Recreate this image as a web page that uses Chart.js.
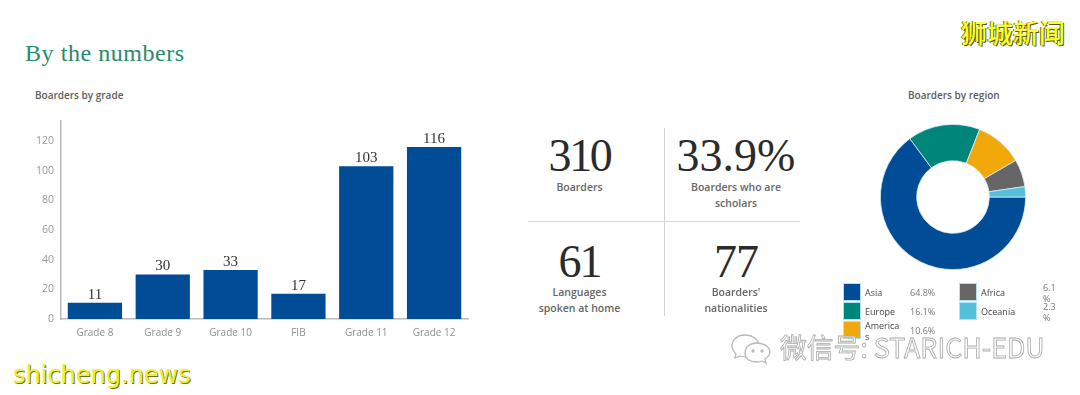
<!DOCTYPE html>
<html><head><meta charset="utf-8">
<script src="https://cdn.jsdelivr.net/npm/chart.js@4"></script>
<style>
html,body{margin:0;padding:0;background:#fff;overflow:hidden}
body{width:1080px;height:395px;position:relative;font-family:"Open Sans",sans-serif}
.a{position:absolute;white-space:nowrap}
canvas{position:absolute}
.t{font-size:10px;font-weight:600;color:#5c5c5c;line-height:14px}
.n{font-family:"Liberation Serif",serif;color:#2b2b2b;text-align:center;width:160px;line-height:50px;font-size:46px}
.l{font-size:10.5px;font-weight:600;color:#666;text-align:center;width:160px;line-height:16px;white-space:normal}
.leg{font-size:9px;color:#444;line-height:11px}
.swatch{position:absolute;width:18px;height:18px;box-sizing:border-box;border:1px solid #b5dff5}
.cell{position:absolute;display:flex;align-items:center;word-break:break-all;white-space:normal}
</style></head><body>
<div class="a" style="left:25px;top:38px;font:24px/30px 'Liberation Serif',serif;color:#2a8a6c;letter-spacing:.55px">By the numbers</div>
<div class="a t" style="left:35px;top:88px">Boarders by grade</div>
<div class="a t" style="left:908px;top:88px">Boarders by region</div>
<canvas id="bars" width="480" height="250" style="left:0;top:100px;width:480px;height:250px"></canvas>
<canvas id="donut" width="180" height="180" style="left:863px;top:107px;width:180px;height:180px"></canvas>

<div class="a" style="left:664px;top:128px;width:1px;height:188px;background:#cfd3d8"></div>
<div class="a" style="left:528px;top:221px;width:272px;height:1px;background:#d6d9dd"></div>
<div id="stats"></div>
<div id="legend" class="leg"></div>

<div class="a" style="left:961px;top:14px;font:500 26px/36px 'Noto Sans CJK SC',sans-serif;color:#ffff2e;text-shadow:1px 1px 0 #55550a,-1px 0 0 #77771a">狮城新闻</div>
<svg class="a" style="left:730px;top:333px" width="44" height="32" viewBox="0 0 44 32" fill="#fff" stroke="#b9b9b9" stroke-width="1.3">
<path d="M15 2C7 2 2 7 2 13c0 3 2 6 4 8l-1 4 5-2c2 .6 4 1 6 1 8 0 13-5 13-11S23 2 15 2z"/>
<path d="M27 10c-7 0-12 4-12 10s5 9 12 9c2 0 3 0 5-1l4 2-1-4c3-2 5-4 5-7 0-5-6-9-13-9z"/>
<circle cx="23" cy="18" r="1" fill="#b9b9b9"/><circle cx="32" cy="18" r="1" fill="#b9b9b9"/>
</svg>
<div class="a" style="left:780px;top:330px;font:26.8px/34px 'Noto Sans CJK SC',sans-serif;color:rgba(255,255,255,.7);-webkit-text-stroke:.8px #a9a9a9">微信号: STARICH-EDU</div>
<div class="a" style="left:13px;top:357px;font:24px/36px 'DejaVu Sans',sans-serif;color:#f0f02a;text-shadow:1px 1px 0 #6d6d1a">shicheng.news</div>

<script>
const gradeLabels = ["Grade 8","Grade 9","Grade 10","FIB","Grade 11","Grade 12"];
const gradeValues = [11,30,33,17,103,116];
const regionLabels = ["Asia","Europe","Americas","Africa","Oceania"];
const regionValues = [64.8,16.1,10.6,6.1,2.3];
const regionColors = ["#004c97","#00857a","#f0a80a","#666666","#56bfdc"];
const statValues = ["310","33.9%","61","77"];
const statLabels = ["Boarders","Boarders who are<br>scholars","Languages<br>spoken at home","Boarders'<br>nationalities"];

const valueLabels = {
  id:"valueLabels",
  afterDatasetsDraw(c){
    const {ctx}=c, m=c.getDatasetMeta(0);
    ctx.save();
    ctx.font="15px 'Liberation Serif',serif";
    ctx.fillStyle="#333";
    ctx.textAlign="center";
    ctx.textBaseline="bottom";
    m.data.forEach((b,i)=>ctx.fillText(gradeValues[i],b.x,b.y-0.5));
    ctx.restore();
  }
};
new Chart(document.getElementById("bars"),{
  type:"bar",
  data:{labels:gradeLabels,datasets:[{data:gradeValues,backgroundColor:"#004c97",barPercentage:.8,categoryPercentage:1}]},
  plugins:[valueLabels],
  options:{
    responsive:false,animation:false,
    layout:{padding:{top:21,right:12,left:0,bottom:0}},
    plugins:{legend:{display:false},tooltip:{enabled:false}},
    scales:{
      x:{grid:{display:false,drawTicks:false},border:{color:"#b9b9b9",width:1.5},
         ticks:{color:"#8f8f8f",font:{family:"Open Sans",size:10},padding:8,maxRotation:0},
         afterFit(s){s.height=31}},
      y:{min:0,max:133.5,grid:{display:false,drawTicks:false},border:{color:"#b9b9b9",width:1.5},
         ticks:{stepSize:20,includeBounds:false,color:"#999",font:{family:"Open Sans",size:10.5},padding:7},
         afterFit(s){s.width=61}}
    }
  }
});
new Chart(document.getElementById("donut"),{
  type:"doughnut",
  data:{labels:regionLabels,datasets:[{data:regionValues,backgroundColor:regionColors,borderColor:"#d8eef8",borderWidth:.8}]},
  options:{
    responsive:false,animation:false,rotation:90,cutout:"50%",
    layout:{padding:17},
    plugins:{legend:{display:false},tooltip:{enabled:false}}
  }
});

const stats=document.getElementById("stats");
const sx=[499.5,656],ny=[131,237],ly=[179,284];
const spacing=["-2.3px","0","-2px","-1px"];
statValues.forEach((v,i)=>{
  const col=i%2,row=i>>1;
  stats.insertAdjacentHTML("beforeend",
   `<div class="a n" style="left:${sx[col]}px;top:${ny[row]}px;letter-spacing:${spacing[i]}">${v}</div>`+
   `<div class="a l" style="left:${sx[col]}px;top:${ly[row]}px">${statLabels[i]}</div>`);
});

const lg=document.getElementById("legend");
regionLabels.forEach((r,i)=>{
  const col=i<3?0:1,row=i<3?i:i-3;
  const x=col?959:843,y=283+row*19;
  const nameW=col?50:37, pctX=col?1043:910, pctW=col?17:30;
  const pct=regionValues[i].toFixed(1)+(col?"<br>%":"%");
  lg.insertAdjacentHTML("beforeend",
   `<div class="swatch" style="left:${x}px;top:${y}px;background:${regionColors[i]}"></div>`+
   `<div class="cell" style="left:${x+22}px;top:${y}px;width:${nameW}px;height:19px">${r}</div>`+
   `<div class="cell" style="left:${pctX}px;top:${y-1}px;width:${pctW}px;height:21px;color:#777"><span>${pct}</span></div>`);
});
</script>
</body></html>
